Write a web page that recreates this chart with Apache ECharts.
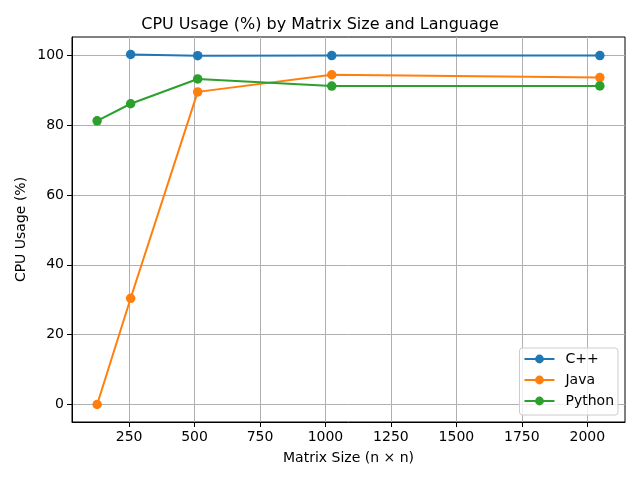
<!DOCTYPE html>
<html>
<head>
<meta charset="utf-8">
<script src="https://cdn.jsdelivr.net/npm/echarts@6/dist/echarts.min.js"></script>
<style>html,body{margin:0;padding:0;background:#fff}#c{width:640px;height:480px}</style>
</head>
<body>
<div id="c"></div>
<script>
const sizes = [128, 256, 512, 1024, 2048];
const cppUsage = [null, 100.2, 99.85, 99.9, 99.9];
const javaUsage = [0.0, 30.4, 89.5, 94.4, 93.6];
const pythonUsage = [81.2, 86.1, 93.2, 91.15, 91.2];
const xTicks = [250, 500, 750, 1000, 1250, 1500, 1750, 2000];
const yTicks = [0, 20, 40, 60, 80, 100];
const names = ['C++', 'Java', 'Python'];
const colors = ['#1f77b4', '#ff7f0e', '#2ca02c'];

function pairs(vals) {
  const out = [];
  sizes.forEach((s, i) => { if (vals[i] !== null) out.push([s, vals[i]]); });
  return out;
}
const font = 'DejaVu Sans';
const chart = echarts.init(document.getElementById('c'), null, {renderer: 'canvas'});
const mkSeries = (name, vals, color) => ({
  name: name, type: 'line', data: pairs(vals),
  symbol: 'circle', symbolSize: 9.5,
  lineStyle: {color: color, width: 2},
  itemStyle: {color: color},
  animation: false
});
chart.setOption({
  animation: false,
  title: {
    text: 'CPU Usage (%) by Matrix Size and Language',
    left: 'center', top: 12,
    textStyle: {fontFamily: font, fontSize: 16, fontWeight: 'normal', color: '#000'}
  },
  grid: {left: 72, right: 15, top: 37, bottom: 58, show: true, borderColor: '#000', borderWidth: 1, backgroundColor: 'transparent'},
  legend: {
    orient: 'vertical', right: 22, bottom: 65,
    data: names,
    itemWidth: 30, itemHeight: 11, itemGap: 7,
    padding: [4, 4, 7, 4],
    borderColor: '#cccccc', borderWidth: 1, borderRadius: 3,
    backgroundColor: 'rgba(255,255,255,0.8)',
    textStyle: {fontFamily: font, fontSize: 14, color: '#000', padding: [0, 0, 0, 6]}
  },
  xAxis: {
    type: 'value', min: 32, max: 2144,
    name: 'Matrix Size (n × n)', nameLocation: 'middle', nameGap: 29,
    nameTextStyle: {fontFamily: font, fontSize: 14, color: '#000'},
    axisLine: {show: true, onZero: false, lineStyle: {color: '#000', width: 1}},
    axisTick: {show: true, length: 5, customValues: xTicks, lineStyle: {color: '#000'}},
    axisLabel: {customValues: xTicks, formatter: v => String(v), fontFamily: font, fontSize: 14, color: '#000', margin: 8},
    splitLine: {show: true, lineStyle: {color: '#b0b0b0', width: 1}}
  },
  yAxis: {
    type: 'value', min: -5.01, max: 105.21,
    name: 'CPU Usage (%)', nameLocation: 'middle', nameGap: 44, nameMoveOverlap: false,
    nameTextStyle: {fontFamily: font, fontSize: 14, color: '#000'},
    axisLine: {show: true, onZero: false, lineStyle: {color: '#000', width: 1}},
    axisTick: {show: true, length: 5, customValues: yTicks, lineStyle: {color: '#000'}},
    axisLabel: {customValues: yTicks, formatter: v => String(v), fontFamily: font, fontSize: 14, color: '#000', margin: 8},
    splitLine: {show: true, lineStyle: {color: '#b0b0b0', width: 1}}
  },
  series: [
    mkSeries(names[0], cppUsage, colors[0]),
    mkSeries(names[1], javaUsage, colors[1]),
    mkSeries(names[2], pythonUsage, colors[2])
  ]
});
</script>
</body>
</html>
